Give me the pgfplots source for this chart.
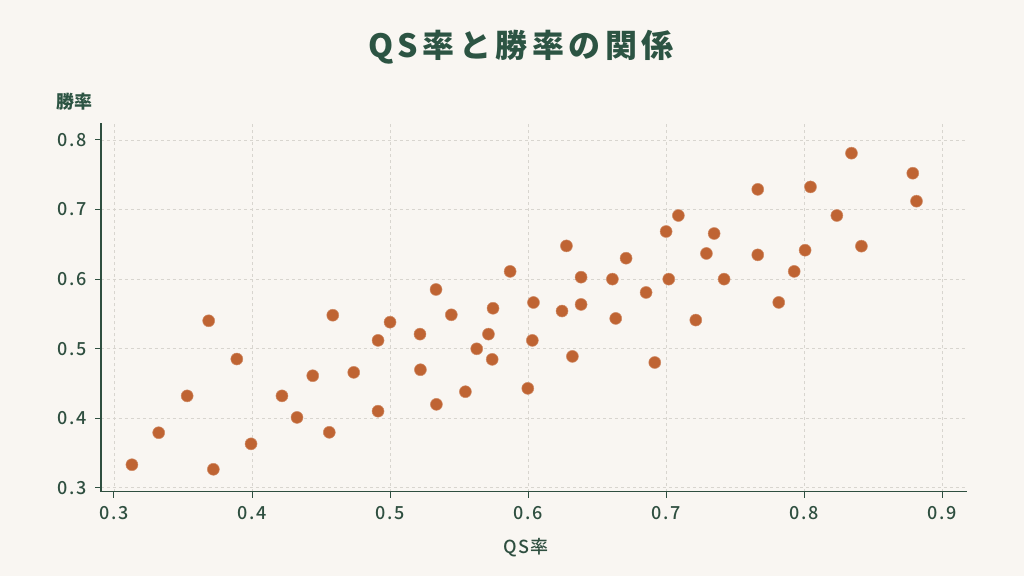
\documentclass[border=0pt]{standalone}
\usepackage{fontspec}
\setmainfont{Noto Sans CJK JP}
\newfontfamily\titlefont[LetterSpace=14]{Noto Sans CJK JP}
\newfontfamily\medfont[LetterSpace=8]{Noto Sans CJK JP Medium}
\usepackage{pgfplots}
\pgfplotsset{compat=1.18}
\definecolor{bgcol}{HTML}{F9F6F2}
\definecolor{titlecol}{HTML}{2C5443}
\definecolor{axiscol}{HTML}{2F4F40}
\definecolor{gridcol}{HTML}{D8D5CF}
\definecolor{dotcol}{HTML}{BF6433}
\begin{document}
\begin{tikzpicture}
\fill[bgcol] (0,0) rectangle (1024bp,576bp);
\useasboundingbox (0,0) rectangle (1024bp,576bp);
\node[font=\titlefont\bfseries\fontsize{32bp}{36bp}\selectfont, text=titlecol] at (521bp,529bp) {QS率と勝率の関係};
\node[anchor=west, font=\bfseries\fontsize{18bp}{20bp}\selectfont, text=titlecol] at (53bp,474bp) {勝率};
\begin{axis}[
  at={(101bp,84.3bp)}, anchor=south west,
  scale only axis, width=866bp, height=368.4bp,
  xmin=0.2906, xmax=0.918, ymin=0.2942, ymax=0.824,
  axis x line*=bottom, axis y line*=left,
  axis line style={axiscol, line width=1.3bp},
  xtick={0.3,0.4,0.5,0.6,0.7,0.8,0.9},
  ytick={0.3,0.4,0.5,0.6,0.7,0.8},
  tick style={axiscol, line width=1bp},
  tick align=outside, major tick length=6bp,
  grid=major,
  major grid style={gridcol, dashed, line width=0.6bp},
  /pgf/number format/assume math mode=true,
  /pgf/number format/fixed,
  /pgf/number format/fixed zerofill,
  /pgf/number format/precision=1,
  ticklabel style={font=\medfont\fontsize{18bp}{20bp}\selectfont, text=axiscol},
  xticklabel style={yshift=-5bp},
  yticklabel style={xshift=-5bp},
  xlabel={QS率},
  xlabel style={font=\medfont\fontsize{18bp}{20bp}\selectfont, text=axiscol, yshift=-12bp, xshift=-8bp},
]
\addplot[only marks, mark=*, mark size=6bp,
  mark options={fill=dotcol, draw=dotcol!75!white, line width=0.5bp}]
table {
x y
0.313 0.333
0.3324 0.379
0.353 0.432
0.3686 0.540
0.372 0.3264
0.389 0.485
0.3993 0.363
0.4217 0.432
0.4326 0.401
0.444 0.461
0.4585 0.548
0.456 0.3796
0.4737 0.4658
0.4913 0.5118
0.4913 0.410
0.500 0.538
0.5217 0.5208
0.522 0.4696
0.5333 0.585
0.5336 0.4198
0.5444 0.5486
0.5546 0.438
0.5628 0.4997
0.5713 0.5208
0.574 0.4845
0.5746 0.558
0.587 0.611
0.5998 0.4428
0.6031 0.5118
0.6039 0.5663
0.6246 0.554
0.6278 0.6477
0.6321 0.4888
0.6384 0.6027
0.6384 0.5635
0.6611 0.5999
0.6635 0.5434
0.671 0.630
0.6855 0.5807
0.6918 0.480
0.700 0.6684
0.7019 0.5999
0.7089 0.6914
0.7215 0.541
0.7292 0.6368
0.7348 0.6655
0.742 0.5999
0.7664 0.729
0.7664 0.6348
0.7816 0.5664
0.7928 0.611
0.8007 0.6415
0.8046 0.7325
0.8237 0.6914
0.8343 0.781
0.8415 0.6473
0.8787 0.7522
0.8814 0.712
};
\end{axis}
\end{tikzpicture}
\end{document}
